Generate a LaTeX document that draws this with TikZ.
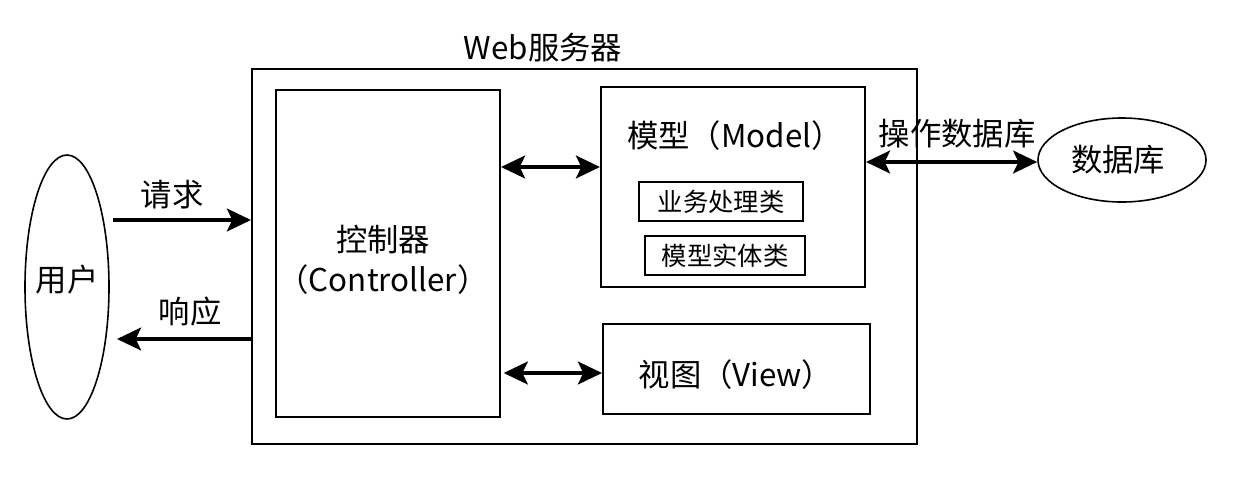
\documentclass[tikz,border=0pt]{standalone}
\usepackage{fontspec}
\setmainfont{Noto Sans CJK SC}
\usetikzlibrary{arrows.meta,shapes.geometric}
\tikzset{
  box/.style={draw, line width=1.5pt, inner sep=0pt},
  sz/.style 2 args={minimum width=#1*0.75pt, minimum height=#2*0.75pt},
  oval/.style={draw, ellipse, line width=1.2pt, inner sep=0pt},
  big/.style={font=\fontsize{23.5pt}{30pt}\selectfont},
  small/.style={font=\fontsize{19pt}{24pt}\selectfont},
  arr/.style={line width=3.2pt, -{Stealth[length=18pt,width=17pt,inset=4pt]}},
  darr/.style={line width=3.2pt, {Stealth[length=18pt,width=17pt,inset=4pt]}-{Stealth[length=18pt,width=17pt,inset=4pt]}},
}
\begin{document}
\begin{tikzpicture}[x=0.75pt,y=-0.75pt]
\useasboundingbox (0,0) rectangle (1252,486);
% boxes
\node[box, sz={665}{375}] (outer) at (584.5,256.5) {};
\node[big] (webl) at (543,48) {Web服务器};
\node[box, sz={224}{327}] (ctrl) at (388,253.5) {};
\node[big, align=center] (ctrlt) at (383,260) {控制器\\（Controller）};
\node[box, sz={264}{200}] (model) at (733,187) {};
\node[big] (modelt) at (735,136) {模型（Model）};
\node[box, sz={164}{39}, small] (biz) at (721,201.5) {业务处理类};
\node[box, sz={160}{39}, small] (ent) at (725,255.5) {模型实体类};
\node[box, sz={267}{90}] (view) at (736.5,369) {};
\node[big] (viewt) at (736,375) {视图（View）};
% ellipses
\node[oval, sz={84}{264}] (user) at (67,287) {};
\node[big] (usert) at (67,280) {用户};
\node[oval, sz={168}{84}] (db) at (1122,160) {};
\node[big] (dbt) at (1118,160) {数据库};
% arrows
\coordinate (req) at (113,220);
\draw[arr] (req) -- (req -| outer.west);
\node[big] (reql) at (172,195) {请求};
\coordinate (resp) at (117,339);
\draw[arr] (resp -| outer.west) -- (resp);
\node[big] (respl) at (190,312) {响应};
\coordinate (cm) at (0,167);
\draw[darr] (cm -| ctrl.east) -- (cm -| model.west);
\coordinate (cv) at (0,373);
\draw[darr] ([xshift=2pt]cv -| ctrl.east) -- (cv -| view.west);
\coordinate (md) at (0,162);
\draw[darr] (md -| model.east) -- (md -| db.west);
\node[big] (mdl) at (957,134) {操作数据库};
\end{tikzpicture}
\end{document}
